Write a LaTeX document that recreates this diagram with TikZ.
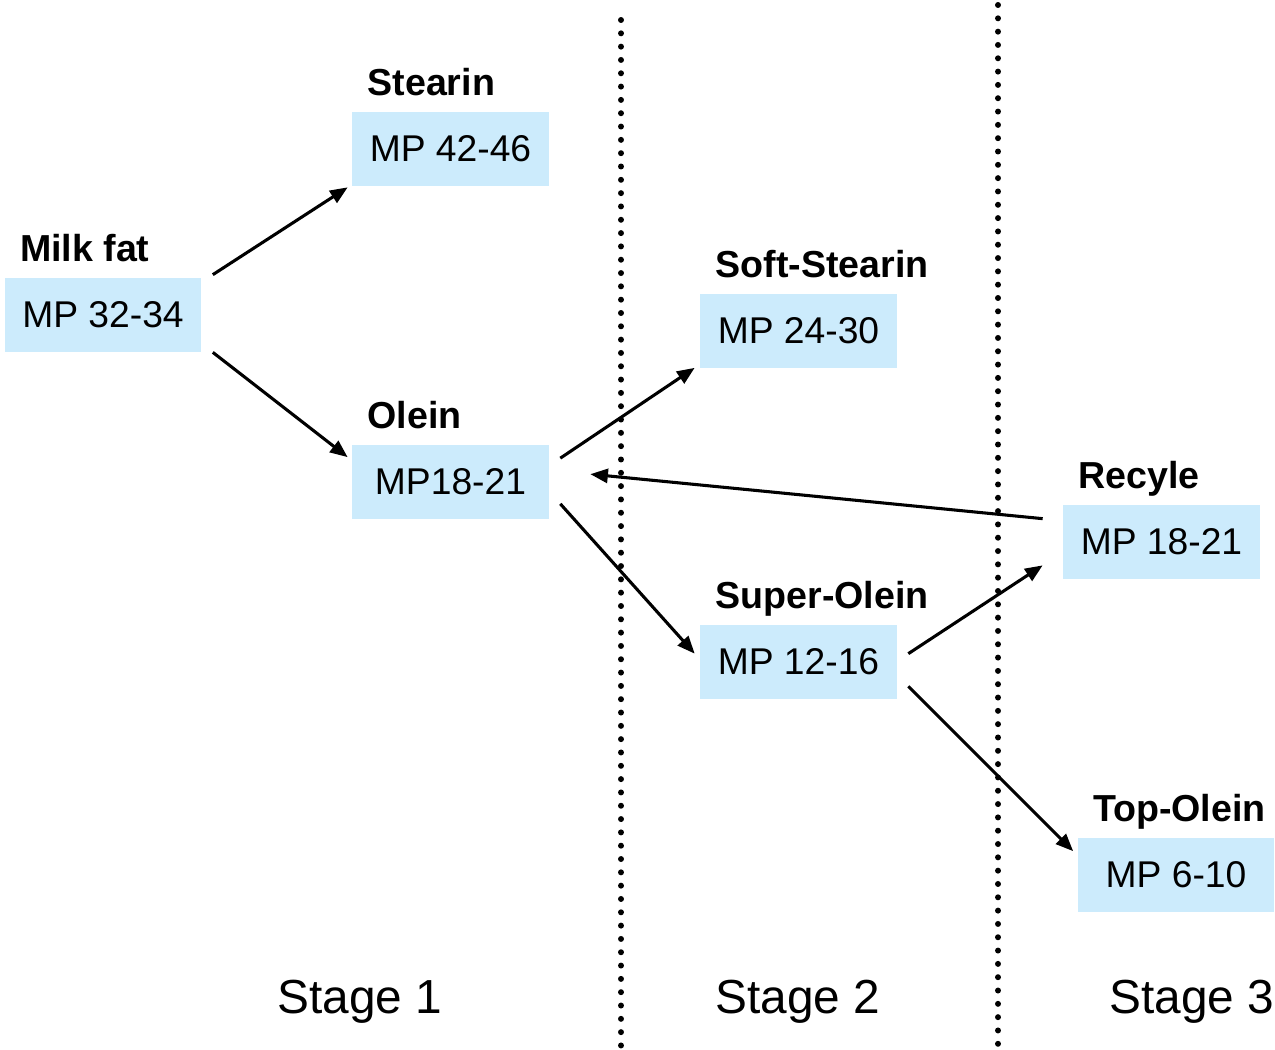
\documentclass[tikz,border=0pt]{standalone}
\usepackage{fontspec}
\setmainfont{Liberation Sans}
\usetikzlibrary{calc,arrows.meta}
\definecolor{boxblue}{RGB}{204,235,252}
\begin{document}
\begin{tikzpicture}[x=0.02cm,y=-0.02cm,
  mpbox/.style={fill=boxblue,minimum width=3.94cm,minimum height=1.48cm,inner sep=0pt,
    font=\fontsize{21.2pt}{25pt}\selectfont},
  boxlabel/.style={anchor=base west,inner sep=0pt,font=\fontsize{21.4pt}{25pt}\selectfont\bfseries},
  stagelabel/.style={anchor=base west,inner sep=0pt,font=\fontsize{27.2pt}{31pt}\selectfont},
  flow/.style={line width=1.75pt,-{Triangle[length=10pt,width=8pt]}},
  divider/.style={line width=3.4pt,line cap=round,dash pattern=on 0pt off 7.58pt}]
\path[use as bounding box] (0,0) rectangle (1275,1049);

% dividers
\coordinate (d1top) at (621,20);
\coordinate (d1bot) at (621,1049);
\coordinate (d2top) at (998,5);
\coordinate (d2bot) at (998,1049);
\draw[divider] (d1top) -- (d1bot);
\draw[divider] (d2top) -- (d2bot);

% boxes
\node[mpbox] (milk) at (103,315) {MP 32-34};
\node[mpbox] (stearin) at (450.5,149) {MP 42-46};
\node[mpbox] (olein) at (450.5,481.5) {MP18-21};
\node[mpbox] (soft) at (798.5,330.5) {MP 24-30};
\node[mpbox] (super) at (798.5,662) {MP 12-16};
\node[mpbox] (recyle) at (1161.5,542) {MP 18-21};
\node[mpbox] (top) at (1176,874.5) {MP 6-10};

% labels
\node[boxlabel] (milkL) at ($(milk.north west)+(15.5,-16)$) {Milk fat};
\node[boxlabel] (stearinL) at ($(stearin.north west)+(15.5,-16)$) {Stearin};
\node[boxlabel] (oleinL) at ($(olein.north west)+(15.5,-16)$) {Olein};
\node[boxlabel] (softL) at ($(soft.north west)+(15.5,-16)$) {Soft-Stearin};
\node[boxlabel] (superL) at ($(super.north west)+(15.5,-16)$) {Super-Olein};
\node[boxlabel] (recyleL) at ($(recyle.north west)+(15.5,-16)$) {Recyle};
\node[boxlabel] (topL) at ($(top.north west)+(15.5,-16)$) {Top-Olein};

% stage labels
\node[stagelabel] (s1) at (277,1013) {Stage 1};
\node[stagelabel] (s2) at (715,1013) {Stage 2};
\node[stagelabel] (s3) at (1109,1013) {Stage 3};

% arrows
\draw[flow] ($(milk.north east)+(11,-3)$) -- ($(stearin.south west)+(-4,1)$);
\draw[flow] ($(milk.south east)+(11,0)$) -- ($(olein.north west)+(-4,13)$);
\draw[flow] ($(olein.north east)+(11,14)$) -- ($(soft.south west)+(-5,0)$);
\draw[flow] ($(olein.south east)+(11,-15)$) -- ($(super.north west)+(-5,29)$);
\draw[flow] ($(recyle.north west)+(-20,14)$) -- ($(olein.north east)+(41,30)$);
\draw[flow] ($(super.north east)+(11,29)$) -- ($(recyle.south west)+(-20,-14)$);
\draw[flow] ($(super.south east)+(11,-13)$) -- ($(top.north west)+(-4,14)$);
\end{tikzpicture}
\end{document}
